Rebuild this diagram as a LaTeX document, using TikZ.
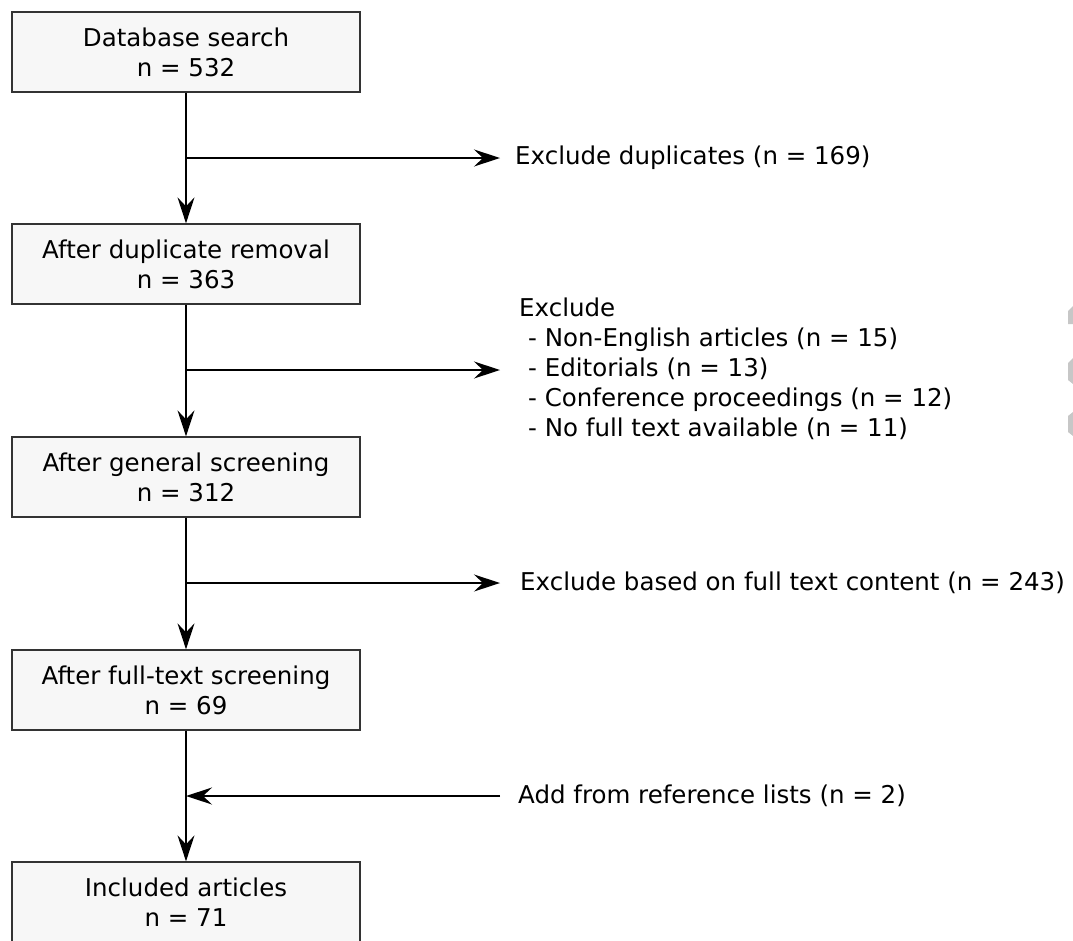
\documentclass[tikz,border=0pt]{standalone}
\usepackage{fontspec}
\setmainfont{DejaVu Sans}
\usetikzlibrary{arrows.meta}
\begin{document}
\begin{tikzpicture}[x=1pt,y=-1pt,
  box/.style={draw=black!80, fill=black!3, line width=1.3pt, minimum width=348pt, minimum height=80pt, align=center, inner sep=0pt, font=\fontsize{24.5}{30}\selectfont},
  note/.style={anchor=west, inner sep=0pt, align=left, font=\fontsize{24.5}{30}\selectfont},
  arr/.style={line width=1.4pt, -{Stealth[length=26pt,width=17pt,inset=9pt]}},
  conn/.style={line width=1.4pt},
  artefact/.style={fill=black!22, draw=none}]
\useasboundingbox (0,0) rectangle (1073,940);
% boxes
\node[box] (b1) at (186,52)  {Database search\\n = 532};
\node[box] (b2) at (186,264) {After duplicate removal\\n = 363};
\node[box] (b3) at (186,477) {After general screening\\n = 312};
\node[box] (b4) at (186,690) {After full-text screening\\n = 69};
\node[box] (b5) at (186,902) {Included articles\\n = 71};
% side texts
\node[note] (e1) at (515,158) {Exclude duplicates (n = 169)};
\node[note] (e2) at (519,369) {Exclude\\\hspace*{9pt}- Non-English articles (n = 15)\\\hspace*{9pt}- Editorials (n = 13)\\\hspace*{9pt}- Conference proceedings (n = 12)\\\hspace*{9pt}- No full text available (n = 11)};
\node[note] (e3) at (520,583) {Exclude based on full text content (n = 243)};
\node[note] (a1) at (518,796) {Add from reference lists (n = 2)};
% junctions
\coordinate (j1) at (186,158);
\coordinate (j2) at (186,370);
\coordinate (j3) at (186,583);
\coordinate (j4) at (186,796);
% main flow
\draw[arr] (b1) -- (b2);
\draw[arr] (b2) -- (b3);
\draw[arr] (b3) -- (b4);
\draw[arr] (b4) -- (b5);
% branches
\draw[arr, shorten >=15pt] (j1) -- (e1.west);
\draw[arr, shorten >=19pt] (j2) -- (e2.west |- j2);
\draw[arr, shorten >=20pt] (j3) -- (e3.west);
\draw[arr, shorten <=18pt] (a1.west) -- (j4);
% cut-off marks at right edge
\path[artefact] (1068,311) -- (1073,306) -- (1073,324) -- (1068,324) -- cycle;
\path[artefact] (1068,363) -- (1073,358) -- (1073,384) -- (1068,380) -- cycle;
\path[artefact] (1068,416) -- (1073,412) -- (1073,436) -- (1068,432) -- cycle;
\end{tikzpicture}
\end{document}
